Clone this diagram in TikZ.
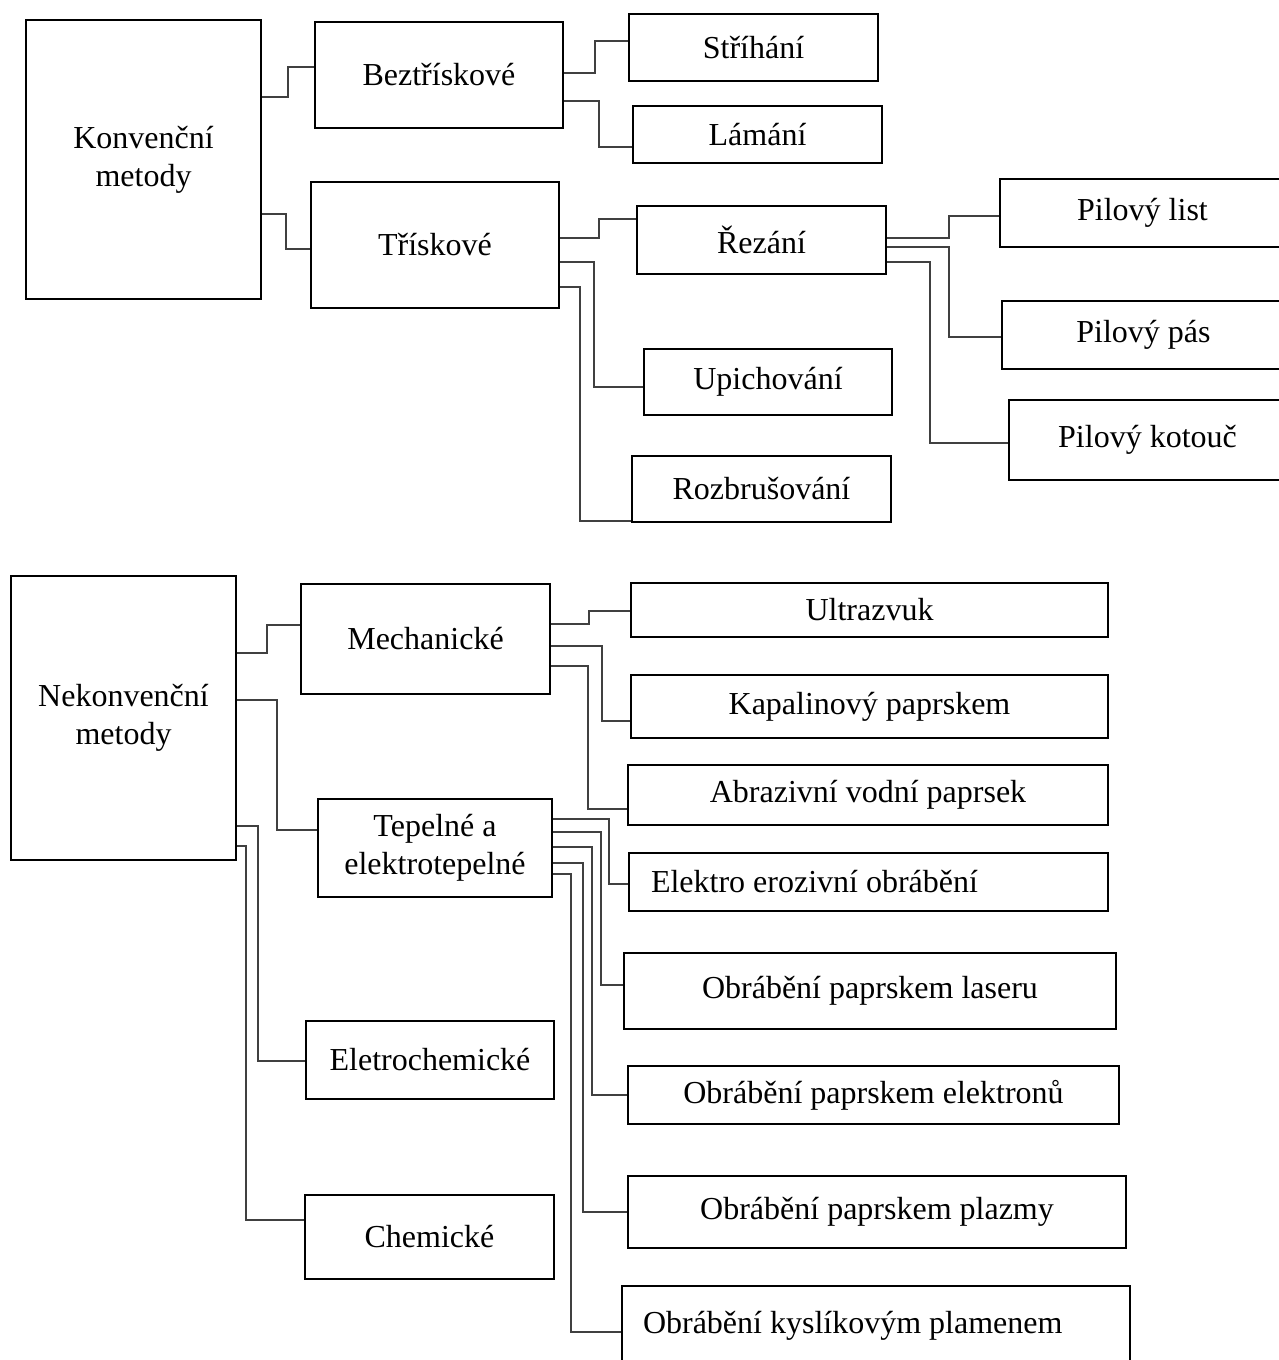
\documentclass[tikz,border=0pt]{standalone}
\usepackage{fontspec}
\setmainfont{Liberation Serif}
\begin{document}
\begin{tikzpicture}[x=1pt,y=-1pt,
  box/.style={draw=black, line width=2.2pt, fill=white, inner sep=0pt, align=center,
    font=\fontsize{32}{38}\selectfont},
  lbox/.style={box, align=flush left},
  conn/.style={draw=black!75, line width=1.2pt}]
\useasboundingbox (0,0) rectangle (1279,1360);
\newcommand\bx[7][box]{\node[#1, minimum width={#5-#3}, minimum height={#6-#4}] (#2) at ({(#3+#5)/2},{(#4+#6)/2}) {#7};}
% top part
\bx{konv}{26}{20}{261}{299}{Konvenční\\metody}
\bx{bez}{315}{22}{563}{128}{Beztřískové}
\bx{tri}{311}{182}{559}{308}{Třískové}
\bx{stri}{629}{14}{878}{81}{Stříhání}
\bx{lam}{633}{106}{882}{163}{Lámání}
\bx{rez}{637}{206}{886}{274}{Řezání}
\bx{upi}{644}{349}{892}{415}{Upichování}
\bx{roz}{632}{456}{891}{522}{Rozbrušování}
\bx{list}{1000}{179}{1285}{247}{Pilový list}
\bx{pas}{1002}{301}{1285}{369}{Pilový pás}
\bx{kot}{1009}{400}{1286}{480}{Pilový kotouč}
% bottom part
\bx{nek}{11}{576}{236}{860}{Nekonvenční\\metody}
\bx{mech}{301}{584}{550}{694}{Mechanické}
\bx{tep}{318}{799}{552}{897}{Tepelné a\\elektrotepelné}
\bx{elch}{306}{1021}{554}{1099}{Eletrochemické}
\bx{chem}{305}{1195}{554}{1279}{Chemické}
\bx{ultra}{631}{583}{1108}{637}{Ultrazvuk}
\bx{kap}{631}{675}{1108}{738}{Kapalinový paprskem}
\bx{abr}{628}{765}{1108}{825}{Abrazivní vodní paprsek}
\node[lbox, minimum height=58, inner xsep=22pt, text width=435pt] (eroz) at (868.5,882) {Elektro erozivní obrábění};
\bx{laser}{624}{953}{1116}{1029}{Obrábění paprskem laseru}
\bx{elek}{628}{1066}{1119}{1124}{Obrábění paprskem elektronů}
\bx{plaz}{628}{1176}{1126}{1248}{Obrábění paprskem plazmy}
\node[lbox, minimum height=80, inner xsep=21pt, text width=466pt] (kysl) at (876,1326) {Obrábění kyslíkovým plamenem};
% connectors top
\draw[conn] (konv.east |- 0,97) -- (288,97) |- (bez.west |- 0,67);
\draw[conn] (konv.east |- 0,214) -- (286,214) |- (tri.west |- 0,249);
\draw[conn] (bez.east |- 0,73) -- (595,73) |- (stri.west |- 0,41);
\draw[conn] (bez.east |- 0,101) -- (599,101) |- (lam.west |- 0,147);
\draw[conn] (tri.east |- 0,238) -- (599,238) |- (rez.west |- 0,219);
\draw[conn] (tri.east |- 0,262) -- (594,262) |- (upi.west |- 0,387);
\draw[conn] (tri.east |- 0,287) -- (580,287) |- (roz.west |- 0,521);
\draw[conn] (rez.east |- 0,238) -- (949,238) |- (list.west |- 0,216);
\draw[conn] (rez.east |- 0,247) -- (949,247) |- (pas.west |- 0,337);
\draw[conn] (rez.east |- 0,262) -- (930,262) |- (kot.west |- 0,443);
% connectors bottom
\draw[conn] (nek.east |- 0,653) -- (267,653) |- (mech.west |- 0,625);
\draw[conn] (nek.east |- 0,700) -- (277,700) |- (tep.west |- 0,830);
\draw[conn] (nek.east |- 0,826) -- (258,826) |- (elch.west |- 0,1061);
\draw[conn] (nek.east |- 0,846) -- (246,846) |- (chem.west |- 0,1220);
\draw[conn] (mech.east |- 0,624) -- (589,624) |- (ultra.west |- 0,611);
\draw[conn] (mech.east |- 0,646) -- (602,646) |- (kap.west |- 0,721);
\draw[conn] (mech.east |- 0,666) -- (588,666) |- (abr.west |- 0,809);
\draw[conn] (tep.east |- 0,819) -- (609,819) |- (eroz.west |- 0,884);
\draw[conn] (tep.east |- 0,832) -- (601,832) |- (laser.west |- 0,985);
\draw[conn] (tep.east |- 0,847) -- (592,847) |- (elek.west |- 0,1095);
\draw[conn] (tep.east |- 0,863) -- (583,863) |- (plaz.west |- 0,1212);
\draw[conn] (tep.east |- 0,874) -- (571,874) |- (kysl.west |- 0,1332);
\end{tikzpicture}
\end{document}
